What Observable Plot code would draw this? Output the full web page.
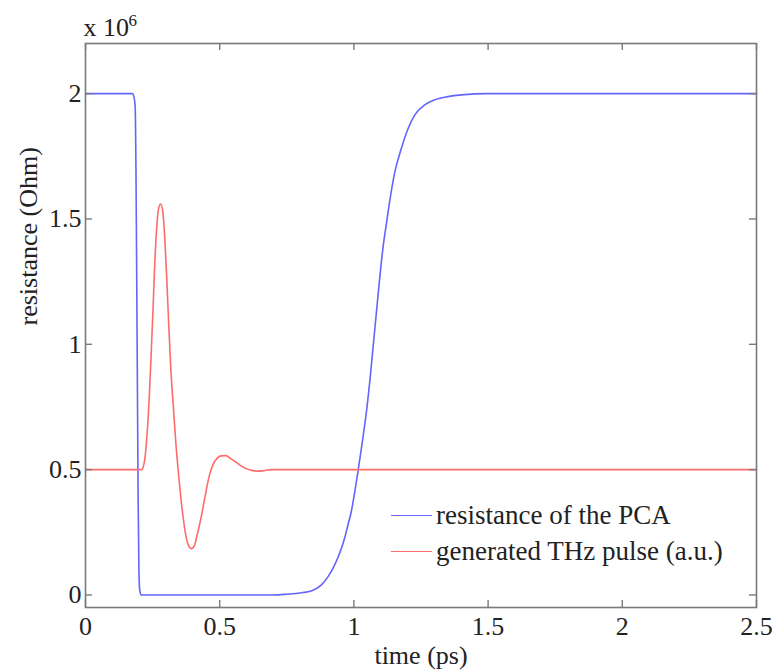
<!DOCTYPE html>
<html>
<head>
<meta charset="utf-8">
<script src="https://cdn.jsdelivr.net/npm/d3@7"></script>
<script src="https://cdn.jsdelivr.net/npm/@observablehq/plot@0.6"></script>
<style>
  html, body { margin: 0; padding: 0; background: #fff; }
  #wrap { position: relative; width: 777px; height: 670px; font-family: "Liberation Serif", "Times New Roman", serif; color: #222; }
  #legend { position: absolute; left: 391px; top: 497px; font-size: 27px; line-height: 36px; }
  #legend .row { display: flex; align-items: center; white-space: nowrap; }
  #legend .sw { width: 41px; height: 0; border-top: 1.6px solid; margin-right: 4px; }
</style>
</head>
<body>
<div id="wrap"></div>
<script>
// ---- data (values in units of 10^6) ----
const seriesNames = ["resistance of the PCA", "generated THz pulse (a.u.)"];
const seriesColors = ["#6464ff", "#ff6b6b"];

const resistanceTime = [0, 0.175, 0.18, 0.185, 0.188, 0.19, 0.193, 0.196, 0.199, 0.202, 0.207,
  0.7, 0.75, 0.8, 0.85, 0.878, 0.905, 0.928, 0.95, 0.965, 0.978, 0.99, 1.003, 1.015, 1.028,
  1.04, 1.05, 1.059, 1.068, 1.077, 1.085, 1.093, 1.101, 1.11, 1.121, 1.134, 1.152, 1.177, 1.202,
  1.227, 1.264, 1.3, 1.35, 1.4, 1.5, 2.5];
const resistanceValue = [2, 2, 1.99, 1.95, 1.7, 1.4, 0.9, 0.4, 0.1, 0.02, 0,
  0, 0.003, 0.008, 0.02, 0.039, 0.075, 0.119, 0.175, 0.225, 0.28, 0.331, 0.41, 0.491, 0.585,
  0.677, 0.76, 0.85, 0.95, 1.05, 1.14, 1.23, 1.315, 1.4, 1.48, 1.575, 1.685, 1.782, 1.861,
  1.915, 1.955, 1.975, 1.988, 1.995, 2, 2];

const pulseTime = [0, 0.2, 0.21, 0.215, 0.222, 0.23, 0.238, 0.245, 0.252, 0.258, 0.265, 0.272,
  0.28, 0.288, 0.295, 0.302, 0.31, 0.318, 0.328, 0.337, 0.345, 0.355, 0.365, 0.375, 0.385,
  0.395, 0.405, 0.415, 0.43, 0.445, 0.46, 0.475, 0.49, 0.505, 0.523, 0.54, 0.56, 0.58, 0.6,
  0.62, 0.64, 0.66, 0.69, 2.5];
const pulseValue = [0.5, 0.5, 0.5, 0.51, 0.55, 0.65, 0.8, 0.97, 1.15, 1.32, 1.46, 1.54,
  1.56, 1.53, 1.43, 1.28, 1.08, 0.9, 0.74, 0.6, 0.5, 0.39, 0.3, 0.23, 0.195,
  0.185, 0.195, 0.235, 0.305, 0.39, 0.47, 0.52, 0.545, 0.555, 0.556, 0.545, 0.53, 0.515, 0.503,
  0.497, 0.494, 0.495, 0.5, 0.5];

const xTicks = [0, 0.5, 1, 1.5, 2, 2.5];
const yTicks = [0, 0.5, 1, 1.5, 2];
const xLabel = "time (ps)";
const yLabel = "resistance (Ohm)";
const multiplierBase = "x 10";
const multiplierExp = "6";

// ---- build ----
const resistanceRows = resistanceTime.map((t, i) => ({t, v: resistanceValue[i]}));
const pulseRows = pulseTime.map((t, i) => ({t, v: pulseValue[i]}));

const W = 777, H = 670;
const mL = 85, mR = 21, mT = 43, mB = 63;
const innerW = W - mL - mR, innerH = H - mT - mB;
const tickLen = 7;
const axisGray = "#7a7a7a";
const FONT = "Liberation Serif";

const chart = Plot.plot({
  width: W, height: H,
  marginLeft: mL, marginRight: mR, marginTop: mT, marginBottom: mB,
  style: {fontFamily: FONT, fontSize: "26px", color: "#222", background: "#fff"},
  x: {domain: [0, 2.5]},
  y: {domain: [-0.05, 2.2]},
  marks: [
    Plot.line(resistanceRows, {x: "t", y: "v", stroke: seriesColors[0], strokeWidth: 1.6, curve: "monotone-x"}),
    Plot.line(pulseRows, {x: "t", y: "v", stroke: seriesColors[1], strokeWidth: 1.6, curve: "monotone-x"}),
    Plot.frame({stroke: axisGray, strokeWidth: 1.6}),
    Plot.tickX(xTicks, {x: d => d, insetTop: innerH - tickLen, stroke: axisGray, strokeWidth: 1.4}),
    Plot.tickX(xTicks, {x: d => d, insetBottom: innerH - tickLen, stroke: axisGray, strokeWidth: 1.4}),
    Plot.tickY(yTicks, {y: d => d, insetRight: innerW - tickLen, stroke: axisGray, strokeWidth: 1.4}),
    Plot.tickY(yTicks, {y: d => d, insetLeft: innerW - tickLen, stroke: axisGray, strokeWidth: 1.4}),
    Plot.axisX(xTicks, {tickSize: 0, tickPadding: 9, tickFormat: d => String(d), fontSize: 26, label: null}),
    Plot.axisY(yTicks, {tickSize: 0, tickPadding: 4, tickFormat: d => String(d), fontSize: 26, label: null}),
    Plot.text([xLabel], {text: d => d, frameAnchor: "bottom", lineAnchor: "middle", dy: 48, fontSize: 26, fill: "#222"}),
    Plot.text([yLabel], {text: d => d, frameAnchor: "left", lineAnchor: "middle", rotate: -90, dx: -57, fontSize: 26, fill: "#222"}),
    Plot.text([multiplierBase], {text: d => d, frameAnchor: "top-left", lineAnchor: "middle", textAnchor: "start", dx: -2, dy: -16, fontSize: 26, fill: "#222"}),
    Plot.text([multiplierExp], {text: d => d, frameAnchor: "top-left", lineAnchor: "middle", textAnchor: "start", dx: 43, dy: -23, fontSize: 17, fill: "#222"})
  ]
});

const wrap = document.getElementById("wrap");
wrap.appendChild(chart);

const legend = document.createElement("div");
legend.id = "legend";
seriesNames.forEach((name, i) => {
  const row = document.createElement("div");
  row.className = "row";
  const sw = document.createElement("span");
  sw.className = "sw";
  sw.style.borderTopColor = seriesColors[i];
  const label = document.createElement("span");
  label.textContent = name;
  row.appendChild(sw);
  row.appendChild(label);
  legend.appendChild(row);
});
wrap.appendChild(legend);
</script>
</body>
</html>
